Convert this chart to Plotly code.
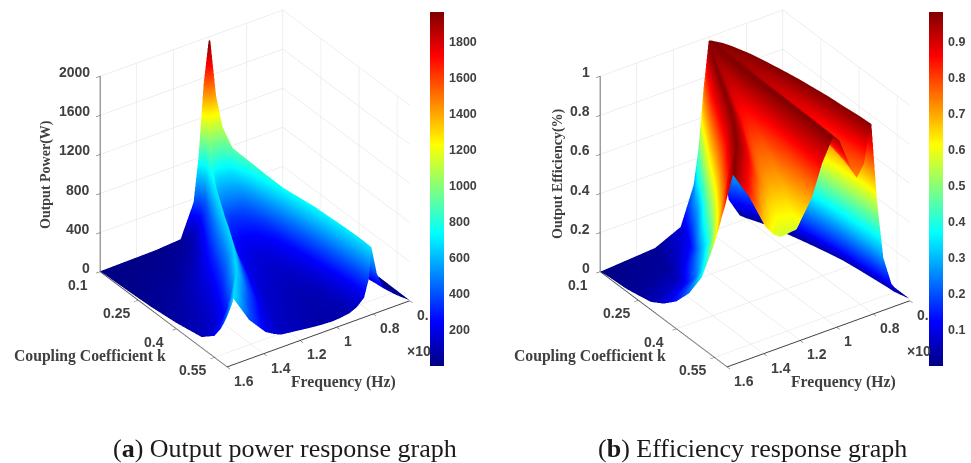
import plotly.graph_objects as go

K_ROWS = [0.10, 0.11, 0.125, 0.15, 0.2, 0.25, 0.3, 0.35, 0.4, 0.45, 0.5, 0.55, 0.575, 0.6]

FREQ = [
 [1.6,1.3,1.16,1.089,1.062,1.034,1.007,1.0065,1.006,1.0055,1.005,1.0045,1.004,1.0035,1.003,1.002,1.001,1.0,.999,.998,.997,.967,.937,.897,.837,.6],
 [1.6,1.3,1.17,1.10,1.07,1.04,1.015,1.0125,1.010,1.009,1.008,1.005,1.003,1.002,1.0,.9975,.9935,.991,.988,.986,.985,.955,.925,.885,.825,.6],
 [1.6,1.32,1.18,1.12,1.09,1.06,1.035,1.029,1.024,1.021,1.018,1.013,1.007,1.004,1.0,.994,.985,.978,.972,.967,.965,.935,.905,.865,.805,.6],
 [1.6,1.33,1.2,1.15,1.115,1.085,1.06,1.052,1.044,1.04,1.036,1.028,1.02,1.0155,1.01,.999,.982,.97,.957,.95,.945,.915,.885,.845,.785,.6],
 [1.6,1.36,1.25,1.2,1.165,1.135,1.105,1.09,1.076,1.068,1.062,1.048,1.034,1.025,1.015,.998,.972,.953,.934,.922,.915,.885,.855,.815,.755,.6],
 [1.6,1.4,1.3,1.25,1.215,1.18,1.15,1.129,1.107,1.097,1.087,1.067,1.047,1.034,1.02,.999,.966,.943,.919,.904,.895,.865,.835,.795,.735,.6],
 [1.6,1.44,1.35,1.3,1.26,1.225,1.195,1.166,1.138,1.123,1.111,1.084,1.057,1.039,1.02,.996,.959,.931,.904,.887,.877,.847,.817,.777,.717,.6],
 [1.6,1.47,1.39,1.34,1.305,1.27,1.24,1.204,1.168,1.15,1.134,1.1,1.066,1.044,1.02,.993,.952,.921,.891,.872,.861,.831,.801,.761,.701,.6],
 [1.6,1.5,1.43,1.39,1.355,1.32,1.29,1.246,1.202,1.18,1.16,1.118,1.077,1.05,1.02,.991,.946,.913,.88,.859,.847,.817,.787,.747,.687,.6],
 [1.6,1.54,1.48,1.44,1.41,1.38,1.348,1.294,1.241,1.214,1.19,1.139,1.089,1.056,1.02,.989,.94,.905,.87,.848,.835,.805,.775,.735,.675,.6],
 [1.6,1.57,1.53,1.49,1.46,1.435,1.41,1.346,1.282,1.25,1.222,1.162,1.102,1.063,1.02,.987,.936,.899,.862,.839,.825,.795,.765,.725,.665,.6],
 [1.6,1.59,1.57,1.55,1.53,1.51,1.49,1.413,1.336,1.298,1.263,1.191,1.119,1.072,1.02,.986,.932,.893,.854,.829,.815,.785,.755,.715,.655,.6],
 [1.6,1.595,1.58,1.565,1.55,1.535,1.525,1.442,1.36,1.318,1.282,1.204,1.126,1.075,1.02,.985,.931,.891,.852,.827,.812,.782,.752,.712,.652,.6],
 [1.6,1.595,1.59,1.585,1.58,1.575,1.57,1.48,1.39,1.345,1.305,1.22,1.135,1.08,1.02,.985,.93,.89,.85,.825,.81,.78,.745,.70,.64,.6],
]

POWER = [
 [5,15,35,365,807,1537,1960,1960,1961,1962,1963,1964,1965,1966,1967,1966,1965,1964,1960,1955,1950,1400,650,190,50,5],
 [6,17,42,190,430,850,1400,1391,1385,1383,1382,1381,1380,1380,1380,1381,1382,1387,1399,1419,1450,800,300,110,35,5],
 [8,20,48,110,230,470,1050,1003,973,965,959,956,952,951,950,951,955,965,990,1034,1100,530,230,90,30,6],
 [10,25,60,120,230,420,850,756,696,679,668,661,655,652,650,652,659,676,722,801,920,480,230,100,32,6],
 [15,35,80,150,260,430,730,551,437,405,384,372,359,353,350,354,367,395,450,590,850,470,260,120,35,7],
 [22,50,105,180,290,470,700,484,345,307,281,266,251,244,240,244,258,290,352,509,800,470,270,130,38,8],
 [30,70,130,205,310,480,680,445,294,253,225,209,192,184,180,185,199,232,296,458,760,460,270,140,40,9],
 [45,85,150,220,320,480,675,428,270,227,197,180,163,154,150,155,170,204,270,438,750,450,270,145,42,10],
 [60,100,155,215,310,470,670,414,249,205,174,156,138,129,125,130,145,181,249,423,745,450,270,150,45,10],
 [85,110,150,210,310,470,670,404,234,187,155,137,119,110,105,110,126,161,230,405,730,440,265,150,45,9],
 [110,125,160,220,320,470,670,397,222,175,142,123,104,95,90,95,111,147,216,392,720,430,260,150,50,8],
 [220,240,280,340,420,540,680,398,217,168,133,114,94,85,80,85,101,136,205,380,705,425,250,155,55,6],
 [340,355,395,445,505,570,685,400,216,167,132,113,93,83,78,83,98,134,202,376,698,422,245,157,57,5],
 [520,550,580,610,640,665,690,400,215,165,130,110,90,80,75,80,95,130,200,370,690,400,240,160,60,5],
]

EFFICIENCY = [
 [0,.02,.08,.27,.45,.75,.975,.98,.98,.98,.98,.98,.98,.98,.98,.98,.98,.98,.98,.98,.98,.7,.4,.13,.03,0],
 [.003,.022,.085,.26,.47,.78,.975,.977,.974,.972,.972,.972,.975,.978,.98,.979,.976,.975,.976,.979,.98,.66,.37,.12,.025,.001],
 [.005,.022,.09,.26,.5,.8,.975,.975,.968,.966,.965,.965,.97,.976,.98,.979,.973,.97,.972,.978,.98,.64,.34,.1,.02,.001],
 [.008,.025,.10,.28,.53,.8,.975,.971,.96,.957,.955,.956,.964,.973,.98,.978,.966,.96,.965,.976,.98,.66,.35,.11,.02,.002],
 [.012,.03,.12,.3,.57,.83,.975,.962,.94,.933,.93,.931,.948,.966,.98,.976,.96,.95,.957,.974,.98,.68,.37,.12,.02,.003],
 [.025,.05,.16,.36,.62,.85,.975,.951,.915,.905,.90,.902,.928,.958,.98,.974,.946,.93,.941,.97,.98,.7,.38,.13,.025,.004],
 [.04,.08,.22,.43,.67,.87,.975,.937,.883,.867,.86,.863,.902,.947,.98,.972,.932,.91,.926,.966,.98,.7,.38,.14,.03,.005],
 [.08,.14,.3,.52,.72,.88,.975,.922,.851,.83,.82,.824,.876,.936,.98,.969,.919,.89,.911,.962,.98,.69,.37,.14,.035,.006],
 [.14,.22,.38,.57,.75,.89,.975,.904,.811,.783,.77,.775,.844,.922,.98,.966,.898,.86,.888,.956,.978,.68,.36,.14,.04,.008],
 [.23,.31,.46,.64,.78,.9,.975,.89,.778,.745,.73,.736,.818,.911,.98,.962,.878,.83,.864,.95,.978,.68,.34,.14,.04,.008],
 [.36,.43,.55,.7,.83,.92,.975,.872,.738,.698,.68,.687,.785,.897,.98,.958,.858,.80,.841,.944,.975,.66,.32,.13,.04,.01],
 [.58,.61,.69,.77,.86,.93,.975,.85,.689,.642,.62,.629,.746,.88,.98,.955,.837,.77,.818,.938,.975,.65,.3,.13,.04,.01],
 [.72,.74,.78,.83,.88,.93,.975,.841,.669,.618,.595,.604,.73,.873,.98,.952,.824,.75,.803,.934,.975,.62,.29,.125,.04,.01],
 [.90,.915,.93,.945,.955,.965,.975,.83,.645,.59,.565,.575,.71,.865,.98,.95,.81,.727,.787,.93,.975,.58,.27,.12,.04,.01],
]

F_TICKS = [1.6, 1.4, 1.2, 1.0, 0.8, 0.6]
F_LABELS = ["1.6", "1.4", "1.2", "1", "0.8", "0."]
K_TICKS = [0.1, 0.25, 0.4, 0.55]
K_LABELS = ["0.1", "0.25", "0.4", "0.55"]
P_TICKS = [0, 400, 800, 1200, 1600, 2000]
P_LABELS = ["0", "400", "800", "1200", "1600", "2000"]
E_TICKS = [0, 0.2, 0.4, 0.6, 0.8, 1]
E_LABELS = ["0", "0.2", "0.4", "0.6", "0.8", "1"]
PBAR_TICKS = [200, 400, 600, 800, 1000, 1200, 1400, 1600, 1800]
EBAR_TICKS = [0.1, 0.2, 0.3, 0.4, 0.5, 0.6, 0.7, 0.8, 0.9]

W, H = 971, 463
GRAY = "#404040"
GRID = "#dedede"
JET = [[0, "rgb(0,0,131)"], [0.125, "rgb(0,0,255)"], [0.375, "rgb(0,255,255)"],
       [0.625, "rgb(255,255,0)"], [0.875, "rgb(255,0,0)"], [1, "rgb(128,0,0)"]]
TICK_FONT = dict(family="Liberation Sans", size=14, color=GRAY, weight="bold")
BAR_FONT = dict(family="Liberation Sans", size=12.5, color=GRAY, weight="bold")
TITLE_FONT = dict(family="Liberation Serif", size=15.7, color=GRAY, weight="bold")
YTITLE_FONT = dict(family="Liberation Serif", size=14, color=GRAY, weight="bold")


def axis(rng, vals):
    return dict(range=rng, tickvals=vals, showticklabels=False, title=dict(text=""),
                showgrid=True, gridcolor=GRID, gridwidth=1, zeroline=False,
                showbackground=False, showspikes=False, showline=True,
                linecolor=GRAY, linewidth=2, ticks="outside", ticklen=5,
                tickcolor=GRAY, tickwidth=1)


def tick_notes(z_vals, z_labels):
    notes = []
    for f, t in zip(F_TICKS, F_LABELS):
        shift = {"1": 11, "0.": 13}.get(t, 17)
        notes.append(dict(x=f, y=0.6, z=0, text=t, showarrow=False, font=TICK_FONT,
                          xshift=shift, yshift=-14))
    for k, t in zip(K_TICKS, K_LABELS):
        notes.append(dict(x=1.6, y=k, z=0, text=t, showarrow=False, font=TICK_FONT,
                          xshift=-22, yshift=-13))
    for z, t in zip(z_vals, z_labels):
        notes.append(dict(x=1.6, y=0.1, z=z, text=t, showarrow=False, font=TICK_FONT,
                          xanchor="right", xshift=-8, yshift=4))
    return notes


def scene(z_rng, z_vals, z_labels, dom):
    return dict(
        domain=dict(x=[dom[0] / W, dom[1] / W], y=[1 - 377 / H, 1]),
        xaxis=axis([0.6, 1.6], F_TICKS),
        yaxis=axis([0.1, 0.6], K_TICKS),
        zaxis=axis(z_rng, z_vals),
        aspectmode="manual",
        aspectratio=dict(x=1.18, y=1.18, z=1.215),
        camera=dict(projection=dict(type="orthographic"),
                    center=dict(x=0, y=0, z=0),
                    up=dict(x=0, y=0, z=1),
                    eye=dict(x=0.974, y=1.402, z=1.043)),
        annotations=tick_notes(z_vals, z_labels),
    )


FLAT = dict(ambient=1, diffuse=0, specular=0, roughness=1, fresnel=0)


def bar(x_px, vals, cfmt):
    return dict(x=x_px / W, xanchor="left", xpad=0, y=1 - 12 / H, yanchor="top", ypad=0,
                len=354 / H, lenmode="fraction", thickness=14, thicknessmode="pixels",
                outlinewidth=0, tickvals=vals, ticks="outside", ticklen=3,
                tickcolor="rgba(0,0,0,0)", tickfont=BAR_FONT,
                ticklabelposition="outside", tickformat=cfmt)


rows_y = [[k] * len(FREQ[0]) for k in K_ROWS]
fig = go.Figure()
fig.add_trace(go.Surface(x=FREQ, y=rows_y, z=POWER, scene="scene",
                         colorscale=JET, cmin=0, cmax=1967, lighting=FLAT, hoverinfo="skip",
                         colorbar=bar(430, PBAR_TICKS, "d")))
fig.add_trace(go.Surface(x=FREQ, y=rows_y, z=EFFICIENCY, scene="scene2",
                         colorscale=JET, cmin=0, cmax=0.983, lighting=FLAT, hoverinfo="skip",
                         colorbar=bar(929, EBAR_TICKS, ".1f")))

texts = [
    (46, 175, "Output Power(W)", YTITLE_FONT, -90),
    (90, 356, "Coupling Coefficient k", TITLE_FONT, 0),
    (343, 382, "Frequency (Hz)", TITLE_FONT, 0),
    (419, 351, "×10", TICK_FONT, 0),
    (558, 174, "Output Efficiency(%)", YTITLE_FONT, -90),
    (590, 356, "Coupling Coefficient k", TITLE_FONT, 0),
    (843, 382, "Frequency (Hz)", TITLE_FONT, 0),
    (919, 351, "×10", TICK_FONT, 0),
]
notes = [dict(x=x / W, y=1 - y / H, xref="paper", yref="paper", xanchor="center", yanchor="middle",
              text=t, showarrow=False, font=f, textangle=a) for x, y, t, f, a in texts]
CAP = dict(family="Liberation Serif", size=26, color="#1a1a1a")
notes += [
    dict(x=285 / W, y=1 - 448 / H, xref="paper", yref="paper", xanchor="center", yanchor="middle",
         showarrow=False, font=CAP, text="(<b>a</b>) Output power response graph"),
    dict(x=752 / W, y=1 - 448 / H, xref="paper", yref="paper", xanchor="center", yanchor="middle",
         showarrow=False, font=CAP, text="(<b>b</b>) Efficiency response graph"),
]

fig.update_layout(
    width=W, height=H, margin=dict(l=0, r=0, t=0, b=0), paper_bgcolor="white",
    showlegend=False, hovermode=False, annotations=notes,
    scene=scene([0, 2000], P_TICKS, P_LABELS, (40, 470)),
    scene2=scene([0, 1], E_TICKS, E_LABELS, (540, 970)),
)
fig.write_html("out.html", config=dict(displayModeBar=False),
               post_script="document.body.style.margin='0';document.documentElement.style.overflow='hidden';")
